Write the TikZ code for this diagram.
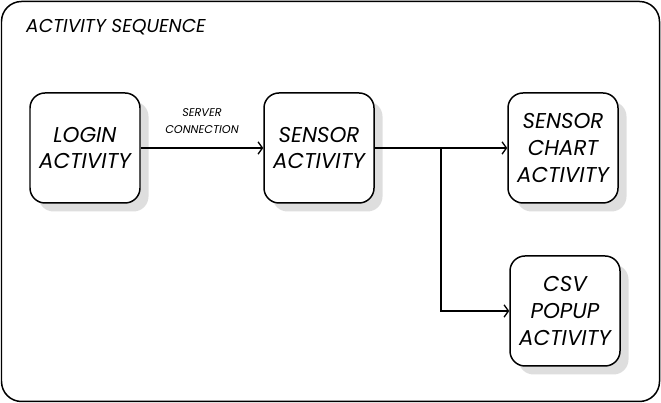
\documentclass[tikz,border=0pt]{standalone}
\usepackage{fontspec}
\setmainfont{Poppins}
\usepackage{tikz}
\usetikzlibrary{arrows.meta, positioning, shadows}
\definecolor{actblack}{RGB}{0,0,0}
\definecolor{actshadow}{RGB}{222,222,222}

\begin{document}
\begin{tikzpicture}[font=\itshape,
  actbox/.style={draw=actblack, line width=0.85pt, fill=white, rounded corners=0.3cm,
    minimum width=2.2cm, minimum height=2.2cm, align=center, inner sep=0pt,
    font=\itshape\fontsize{12.2}{15.3}\selectfont,
    drop shadow={shadow xshift=0.17cm, shadow yshift=-0.17cm, fill=actshadow, opacity=1}},
  conn/.style={line width=0.75pt, -{Straight Barb[length=2.5pt, width=7pt]}}]

\useasboundingbox (0,0) rectangle (13.22,8.06);

% Outer frame
\draw[line width=0.85pt, rounded corners=0.4cm] (0.03,0.03) rectangle (13.19,8.03);
\node[anchor=west, font=\itshape\fontsize{10.6}{12}\selectfont] (title) at (0.40,7.51) {ACTIVITY SEQUENCE};

% Activities
\node[actbox] (login) at (1.70,5.10) {LOGIN\\ACTIVITY};
\node[actbox] (sensor) at (6.38,5.10) {SENSOR\\ACTIVITY};
\node[actbox] (chart) at (11.26,5.10) {SENSOR\\CHART\\ACTIVITY};
\node[actbox] (csv) at (11.30,1.84) {CSV\\POPUP\\ACTIVITY};

% Connections
\draw[conn] (login) -- (sensor);
\node[align=center, font=\itshape\fontsize{6.4}{9.6}\selectfont] (server) at (4.04,5.63) {SERVER\\CONNECTION};
\coordinate (split) at (8.82,5.10);
\draw[conn] (sensor) -- (chart);
\draw[conn] (split) |- (csv);

\end{tikzpicture}
\end{document}
